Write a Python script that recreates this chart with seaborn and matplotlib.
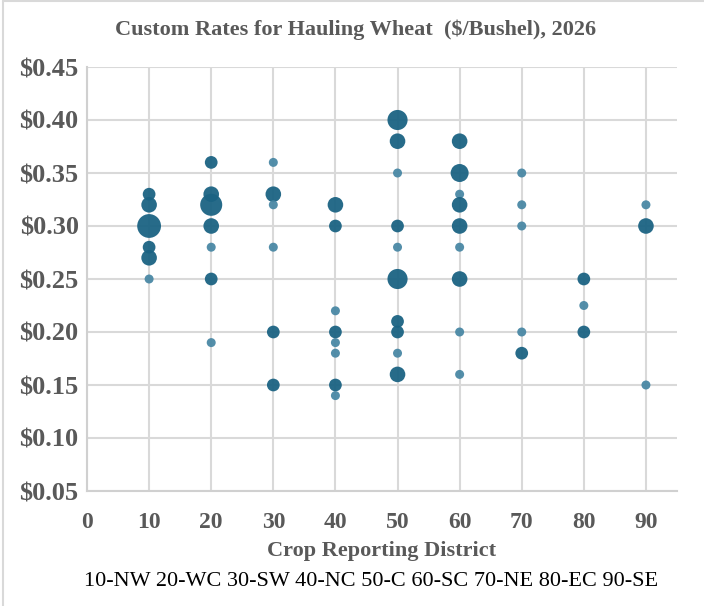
import numpy as np
import pandas as pd
import matplotlib
matplotlib.use('Agg')
import matplotlib.pyplot as plt
import seaborn as sns

# districts, rate ($/bushel) and number of responses at that rate
district = [10, 10, 10, 10, 10, 10,
            20, 20, 20, 20, 20, 20, 20,
            30, 30, 30, 30, 30, 30,
            40, 40, 40, 40, 40, 40, 40, 40,
            50, 50, 50, 50, 50, 50, 50, 50, 50, 50,
            60, 60, 60, 60, 60, 60, 60, 60, 60,
            70, 70, 70, 70, 70,
            80, 80, 80,
            90, 90, 90]
rate = [0.33, 0.32, 0.30, 0.28, 0.27, 0.25,
        0.36, 0.33, 0.32, 0.30, 0.28, 0.25, 0.19,
        0.36, 0.33, 0.32, 0.28, 0.20, 0.15,
        0.32, 0.30, 0.22, 0.20, 0.19, 0.18, 0.15, 0.14,
        0.40, 0.38, 0.35, 0.30, 0.28, 0.25, 0.21, 0.20, 0.18, 0.16,
        0.38, 0.35, 0.33, 0.32, 0.30, 0.28, 0.25, 0.20, 0.16,
        0.35, 0.32, 0.30, 0.20, 0.18,
        0.25, 0.225, 0.20,
        0.32, 0.30, 0.15]
count = [2, 3, 7, 2, 3, 1,
         2, 3, 6, 3, 1, 2, 1,
         1, 3, 1, 1, 2, 2,
         3, 2, 1, 2, 1, 1, 2, 1,
         5, 3, 1, 2, 1, 5, 2, 2, 1, 3,
         3, 4, 1, 3, 3, 1, 3, 1, 1,
         1, 1, 1, 1, 2,
         2, 1, 2,
         1, 3, 1]
yticks = [0.05, 0.10, 0.15, 0.20, 0.25, 0.30, 0.35, 0.40, 0.45]
xticks = [0, 10, 20, 30, 40, 50, 60, 70, 80, 90]
caption = "10-NW 20-WC 30-SW 40-NC 50-C 60-SC 70-NE 80-EC 90-SE"

df = pd.DataFrame({'district': district, 'rate': rate, 'count': count})

sns.set_style('white')
plt.rcParams['font.family'] = ['Liberation Serif', 'DejaVu Serif']

fig = plt.figure(figsize=(7.04, 6.06), dpi=100)
ax = fig.add_axes([87 / 704, 1 - 491 / 606, (677 - 87) / 704, (491 - 67) / 606])

levels = sorted(df['count'].unique())
sizes = {n: 42 * n for n in levels}
palette = {n: ('#4a88a5' if n == 1 else '#1b6383') for n in levels}

sns.scatterplot(data=df, x='district', y='rate', size='count', sizes=sizes,
                hue='count', palette=palette, alpha=0.95, linewidth=0,
                legend=False, ax=ax, zorder=3)

ax.set_xlim(0, 95)
ax.set_ylim(0.05, 0.45)
ax.set_xticks(xticks)
ax.set_yticks(yticks)
ax.set_yticklabels([f'${v:.2f}' for v in yticks])
ax.grid(True, color='#d9d9d9', linewidth=1.5, zorder=0)
ax.set_axisbelow(True)
for s in ['top', 'right']:
    ax.spines[s].set_visible(False)
for s in ['left', 'bottom']:
    ax.spines[s].set_color('#d0d0d0')
    ax.spines[s].set_linewidth(1.5)
ax.tick_params(axis='y', length=0, labelcolor='#595959', labelsize=19, pad=6)
ax.tick_params(axis='x', length=0, labelcolor='#595959', labelsize=17, pad=15)
for lab in ax.get_xticklabels() + ax.get_yticklabels():
    lab.set_fontweight('bold')
ax.set_xlabel('Crop Reporting District', fontsize=16, fontweight='bold', color='#595959', labelpad=6)
ax.set_ylabel('')

fig.text(356 / 704, 1 - 30 / 606, 'Custom Rates for Hauling Wheat  ($/Bushel), 2026',
         ha='center', va='center', fontsize=16, fontweight='bold', color='#595959')
fig.text(371 / 704, 1 - 581 / 606, caption, ha='center', va='center', fontsize=16, color='black')

# chart area border (top and left edges)
fig.add_artist(plt.Line2D([0.004, 1], [0.998, 0.998], color='#d9d9d9', linewidth=1.5, transform=fig.transFigure))
fig.add_artist(plt.Line2D([0.004, 0.004], [0, 0.998], color='#d9d9d9', linewidth=1.5, transform=fig.transFigure))

fig.savefig('out.png', dpi=100)
